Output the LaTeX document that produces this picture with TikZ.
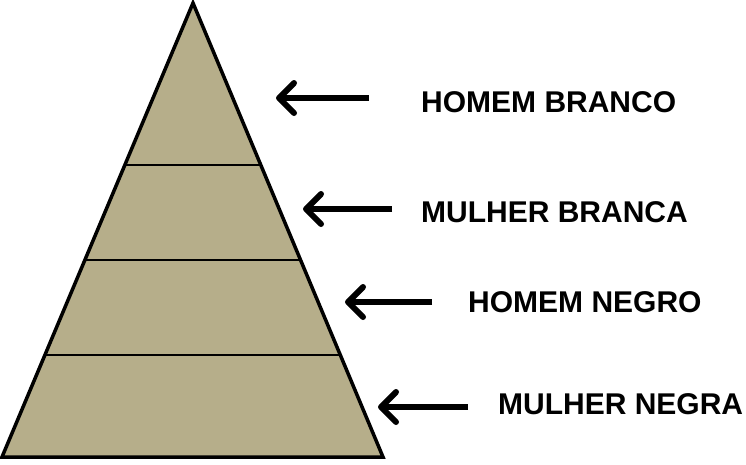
\documentclass[tikz,border=0pt]{standalone}
\usepackage{fontspec}
\setmainfont{Liberation Sans}
\usetikzlibrary{calc,arrows.meta}
\definecolor{pyrfill}{RGB}{182,174,138}
\tikzset{
  lbl/.style={anchor=base west, inner sep=0pt, font=\bfseries\fontsize{30}{32}\selectfont},
  pointer/.style={line width=6pt, -{Straight Barb[length=15pt,width=30pt,round]}},
  band/.style={line width=2pt},
}
\begin{document}
\begin{tikzpicture}[x=1pt,y=-1pt]
\useasboundingbox (0,0) rectangle (746,464);
\coordinate (A) at (193,3);
\coordinate (L) at (2,457);
\coordinate (R) at (383,457);
\filldraw[fill=pyrfill, draw=black, line width=3.5pt, line join=miter] (A) -- (L) -- (R) -- cycle;
\coordinate (l1) at ($(L)!0.643!(A)$);
\coordinate (r1) at ($(R)!0.643!(A)$);
\coordinate (l2) at ($(L)!0.434!(A)$);
\coordinate (r2) at ($(R)!0.434!(A)$);
\coordinate (l3) at ($(L)!0.2247!(A)$);
\coordinate (r3) at ($(R)!0.2247!(A)$);
\draw[band] (l1) -- (r1);
\draw[band] (l2) -- (r2);
\draw[band] (l3) -- (r3);
\node[lbl] (t1) at (421,112) {HOMEM BRANCO};
\node[lbl] (t2) at (421,222) {MULHER BRANCA};
\node[lbl] (t3) at (468,312) {HOMEM NEGRO};
\node[lbl] (t4) at (498,414) {MULHER NEGRA};
\coordinate (s1) at (369,98);  \coordinate (e1) at (276,98);
\coordinate (s2) at (392,209); \coordinate (e2) at (303,209);
\coordinate (s3) at (432,302); \coordinate (e3) at (345,302);
\coordinate (s4) at (468,407); \coordinate (e4) at (378,407);
\draw[pointer] (s1) -- (e1);
\draw[pointer] (s2) -- (e2);
\draw[pointer] (s3) -- (e3);
\draw[pointer] (s4) -- (e4);
\end{tikzpicture}
\end{document}
